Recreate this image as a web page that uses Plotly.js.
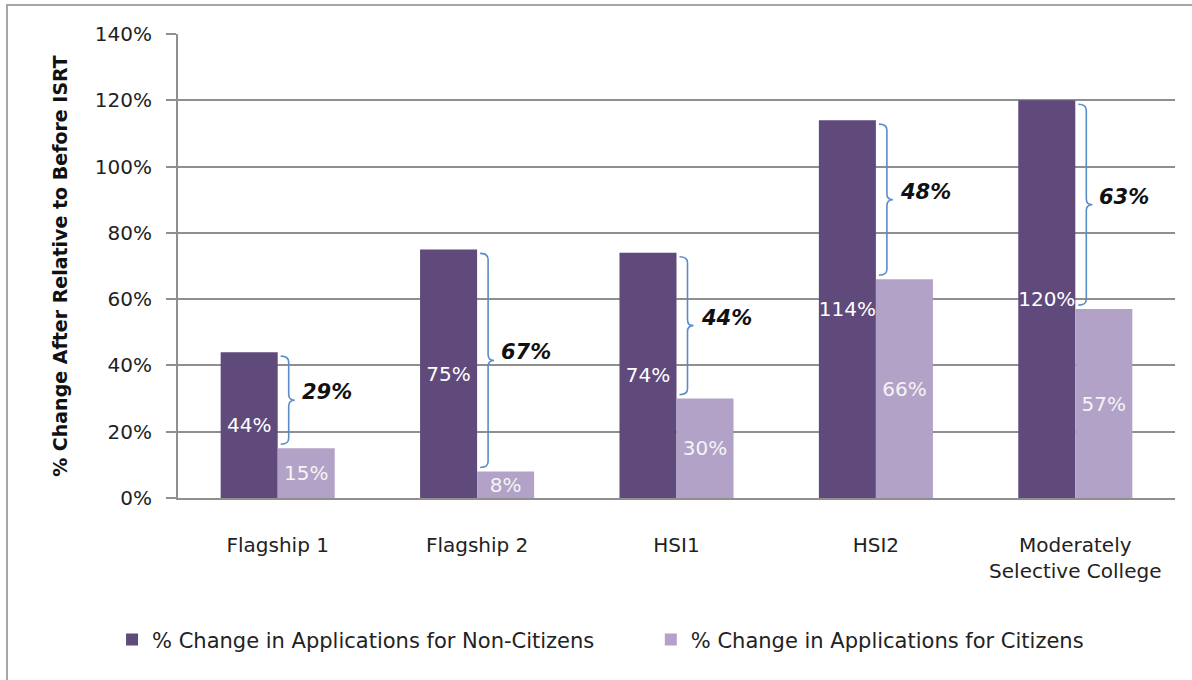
<!DOCTYPE html>
<html>
<head>
<meta charset="utf-8">
<script src="https://cdn.plot.ly/plotly-3.0.1.min.js"></script>
<style>
  html, body { margin: 0; padding: 0; background: #fff; }
  #wrap { position: relative; width: 1192px; height: 680px; overflow: hidden; }
  #chart { position: absolute; left: 0; top: 0; width: 1192px; height: 680px; }
  #frame { position: absolute; left: 6px; top: 4px; width: 1300px; height: 800px;
           border-left: 2px solid #a6a6a6; border-top: 2px solid #a6a6a6; pointer-events: none; }
</style>
</head>
<body>
<div id="wrap">
  <div id="chart"></div>
  <div id="frame"></div>
</div>
<script>
// ---- data ----
const categories = ["Flagship 1", "Flagship 2", "HSI1", "HSI2", "Moderately<br>Selective College"];
const nonCitizens = [44, 75, 74, 114, 120];
const citizens = [15, 8, 30, 66, 57];
const seriesNames = ["% Change in Applications for Non-Citizens", "% Change in Applications for Citizens"];
const yTickVals = [0, 20, 40, 60, 80, 100, 120, 140];
const yTickText = ["0%", "20%", "40%", "60%", "80%", "100%", "120%", "140%"];

// ---- styles ----
const FONT = "DejaVu Sans";
const darkPurple = "#604A7B";
const lightPurple = "#B3A2C7";
const braceColor = "#5B8CC8";
const gridColor = "#8f8f8f";

const pct = v => v + "%";

const traces = [
  {
    type: "bar", name: seriesNames[0], x: categories, y: nonCitizens,
    legend: "legend",
    marker: { color: darkPurple },
    text: nonCitizens.map(pct), texttemplate: "%{text}",
    textposition: "inside", insidetextanchor: "middle", textangle: 0,
    constraintext: "none", cliponaxis: false,
    textfont: { family: FONT, size: 20, color: "#ffffff" },
    hoverinfo: "skip"
  },
  {
    type: "bar", name: seriesNames[1], x: categories, y: citizens,
    legend: "legend2",
    marker: { color: lightPurple },
    text: citizens.map(pct), texttemplate: "%{text}",
    textposition: "inside", insidetextanchor: "middle", textangle: 0,
    constraintext: "none", cliponaxis: false,
    textfont: { family: FONT, size: 20, color: "#f4f4f4" },
    hoverinfo: "skip"
  }
];

// braces "}" between the two bar tops, with the difference labels
const shapes = [];
const annotations = [];
categories.forEach((cat, i) => {
  const t = nonCitizens[i] - 1.2;
  const b = citizens[i] + 1.2;
  const m = (t + b) / 2;
  const d = 1.8;
  const path =
    `M 3,${t} Q 11,${t} 11,${t - d} L 11,${m + d} Q 11,${m} 17,${m} ` +
    `Q 11,${m} 11,${m - d} L 11,${b + d} Q 11,${b} 3,${b}`;
  shapes.push({
    type: "path", xref: "x", yref: "y", xsizemode: "pixel", xanchor: cat,
    path: path, line: { color: braceColor, width: 1.6 }, layer: "above"
  });
  annotations.push({
    x: cat, y: m, xref: "x", yref: "y", xanchor: "left", yanchor: "middle",
    xshift: 22, yshift: 8, showarrow: false,
    text: pct(nonCitizens[i] - citizens[i]),
    font: { family: FONT, size: 21, color: "#111", weight: "bold", style: "italic" }
  });
});

const legendBase = {
  orientation: "h", xref: "container", yref: "container",
  xanchor: "left", y: 0.059, yanchor: "middle",
  font: { family: FONT, size: 21, color: "#222" },
  itemwidth: 30, bgcolor: "rgba(0,0,0,0)"
};

const layout = {
  width: 1192, height: 680,
  margin: { l: 178, r: 17, t: 34, b: 182 },
  paper_bgcolor: "#ffffff", plot_bgcolor: "#ffffff",
  font: { family: FONT, size: 20, color: "#222" },
  barmode: "group", bargap: 0.428, bargroupgap: 0,
  showlegend: true,
  legend: Object.assign({}, legendBase, { x: 0.094 }),
  legend2: Object.assign({}, legendBase, { x: 0.546 }),
  xaxis: {
    type: "category", showline: true, linecolor: gridColor, linewidth: 2,
    ticks: "", showgrid: false, ticklabelstandoff: 28,
    tickfont: { family: FONT, size: 20, color: "#222" }, fixedrange: true
  },
  yaxis: {
    range: [0, 140], tickmode: "array", tickvals: yTickVals, ticktext: yTickText,
    showline: true, linecolor: gridColor, linewidth: 2,
    ticks: "outside", ticklen: 10, tickcolor: gridColor, tickwidth: 2,
    showgrid: true, gridcolor: gridColor, gridwidth: 2, zeroline: false,
    ticklabelstandoff: 10,
    tickfont: { family: FONT, size: 20, color: "#222" },
    title: { text: "% Change After Relative to Before ISRT", standoff: 22,
             font: { family: FONT, size: 19, color: "#111", weight: "bold" } },
    fixedrange: true
  },
  shapes: shapes,
  annotations: annotations
};

Plotly.newPlot("chart", traces, layout, { displayModeBar: false, staticPlot: true });
</script>
</body>
</html>
